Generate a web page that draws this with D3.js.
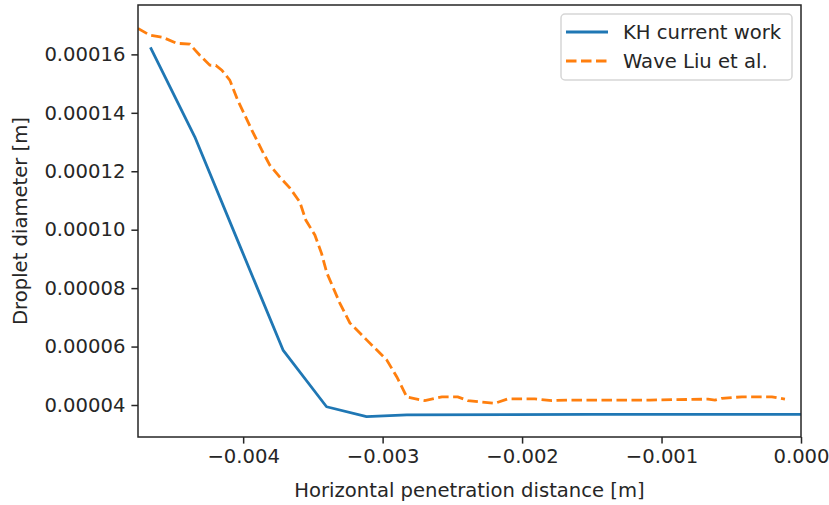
<!DOCTYPE html>
<html>
<head>
<meta charset="utf-8">
<script src="https://cdn.jsdelivr.net/npm/d3@7"></script>
<style>
  body { margin: 0; background: #fff; }
  text { font-family: "DejaVu Sans", sans-serif; fill: #262626; }
</style>
</head>
<body>
<figure id="droplet-graph" style="margin:0"></figure>
<script>
// KH current work (blue)
const khX = [-0.004665, -0.004347, -0.004017, -0.003714, -0.003402, -0.003115, -0.002826, -0.0015, 0.0];
const khY = [0.0001624, 0.0001318, 0.0000937, 0.0000588, 0.0000394, 0.0000360, 0.0000366, 0.0000368, 0.0000368];

// Wave Liu et al. (orange, dashed)
const liuX = [-0.004754, -0.004670, -0.004575, -0.004478, -0.004383, -0.004311, -0.004239, -0.004196,
  -0.004153, -0.004096, -0.004039, -0.003938, -0.003867, -0.003809, -0.003737, -0.003666, -0.003594,
  -0.003551, -0.003486, -0.003438, -0.003400, -0.003307, -0.003235, -0.003113, -0.002970, -0.002898,
  -0.002826, -0.002697, -0.002575, -0.002461, -0.002389, -0.002195, -0.002102, -0.001908, -0.001786,
  -0.001671, -0.001428, -0.001083, -0.000667, -0.000617, -0.000567, -0.000423, -0.000208, -0.000115];
const liuY = [0.0001689, 0.0001666, 0.0001658, 0.0001638, 0.0001635, 0.0001597, 0.0001563, 0.0001562,
  0.0001546, 0.0001512, 0.0001443, 0.0001341, 0.0001273, 0.0001221, 0.0001180, 0.0001143, 0.0001095,
  0.0001033, 0.0000982, 0.0000919, 0.0000852, 0.0000749, 0.0000681, 0.0000622, 0.0000554, 0.0000496,
  0.0000427, 0.0000415, 0.0000428, 0.0000428, 0.0000415, 0.0000406, 0.0000421, 0.0000421, 0.0000415,
  0.0000417, 0.0000417, 0.0000417, 0.0000420, 0.0000417, 0.0000423, 0.0000428, 0.0000428, 0.0000420];

const xTicks = [-0.004, -0.003, -0.002, -0.001, 0.0];
const yTicks = [0.00004, 0.00006, 0.00008, 0.00010, 0.00012, 0.00014, 0.00016];
const seriesNames = ["KH current work", "Wave Liu et al."];

const width = 829, height = 505;
const margin = { left: 138, right: 28, top: 5, bottom: 68 };
const innerW = width - margin.left - margin.right;
const innerH = height - margin.top - margin.bottom;
const fontSize = 19.6;

const svg = d3.select('figure#droplet-graph')
  .append('svg')
  .attr('width', width)
  .attr('height', height);

const g = svg.append('g')
  .attr('transform', 'translate(' + margin.left + ',' + margin.top + ')');

const x = d3.scaleLinear()
  .domain([-0.004754, 0.0])
  .range([0, innerW]);

const y = d3.scaleLinear()
  .domain([0.00002905, 0.0001769])
  .range([innerH, 0]);

g.append('clipPath').attr('id', 'plot-clip')
  .append('rect').attr('width', innerW).attr('height', innerH);

const fmtX = d => (d < 0 ? '\u2212' : '') + Math.abs(d).toFixed(3);

// x axis
const xAxis = g.append('g')
  .attr('transform', 'translate(0,' + innerH + ')')
  .call(d3.axisBottom(x).tickValues(xTicks).tickFormat(fmtX).tickSize(6.6).tickPadding(5));
xAxis.select('.domain').remove();
xAxis.selectAll('line').attr('stroke', '#262626').attr('stroke-width', 1.5);
xAxis.selectAll('text').style('font-size', fontSize + 'px').attr('font-family', 'DejaVu Sans').attr('fill', '#262626');

// y axis
const yAxis = g.append('g')
  .call(d3.axisLeft(y).tickValues(yTicks).tickFormat(d => d.toFixed(5)).tickSize(6.6).tickPadding(6));
yAxis.select('.domain').remove();
yAxis.selectAll('line').attr('stroke', '#262626').attr('stroke-width', 1.5);
yAxis.selectAll('text').style('font-size', fontSize + 'px').attr('font-family', 'DejaVu Sans').attr('fill', '#262626');

// lines
const khData = khX.map((v, i) => [v, khY[i]]);
const liuData = liuX.map((v, i) => [v, liuY[i]]);
const line = d3.line().x(d => x(d[0])).y(d => y(d[1]));

g.append('path')
  .datum(khData)
  .attr('clip-path', 'url(#plot-clip)')
  .attr('fill', 'none')
  .attr('stroke', '#1f77b4')
  .attr('stroke-width', 2.8)
  .attr('stroke-linejoin', 'round')
  .attr('d', line);

g.append('path')
  .datum(liuData)
  .attr('clip-path', 'url(#plot-clip)')
  .attr('fill', 'none')
  .attr('stroke', '#ff7f0e')
  .attr('stroke-width', 2.8)
  .attr('stroke-dasharray', '10.5,4.5')
  .attr('d', line);

// frame
g.append('rect')
  .attr('width', innerW)
  .attr('height', innerH)
  .attr('fill', 'none')
  .attr('stroke', '#262626')
  .attr('stroke-width', 1.5);

// axis labels
svg.append('text')
  .attr('x', margin.left + innerW / 2)
  .attr('y', 497)
  .attr('text-anchor', 'middle')
  .style('font-size', fontSize + 'px')
  .text('Horizontal penetration distance [m]');

svg.append('text')
  .attr('transform', 'translate(27,' + (margin.top + innerH / 2) + ') rotate(-90)')
  .attr('text-anchor', 'middle')
  .style('font-size', fontSize + 'px')
  .text('Droplet diameter [m]');

// legend
const legend = svg.append('g').attr('transform', 'translate(561,14)');
legend.append('rect')
  .attr('width', 231)
  .attr('height', 66)
  .attr('rx', 4)
  .attr('fill', '#fff')
  .attr('fill-opacity', 0.8)
  .attr('stroke', '#d6d6d6')
  .attr('stroke-width', 1.5);

const colors = ['#1f77b4', '#ff7f0e'];
seriesNames.forEach((name, i) => {
  const row = legend.append('g').attr('transform', 'translate(0,' + (18 + i * 29) + ')');
  row.append('line')
    .attr('x1', 5).attr('x2', 47)
    .attr('stroke', colors[i])
    .attr('stroke-width', 2.8)
    .attr('stroke-dasharray', i === 1 ? '10.5,4.5' : null);
  row.append('text')
    .attr('x', 62)
    .attr('dy', '0.35em')
    .style('font-size', fontSize + 'px')
    .text(name);
});
</script>
</body>
</html>
